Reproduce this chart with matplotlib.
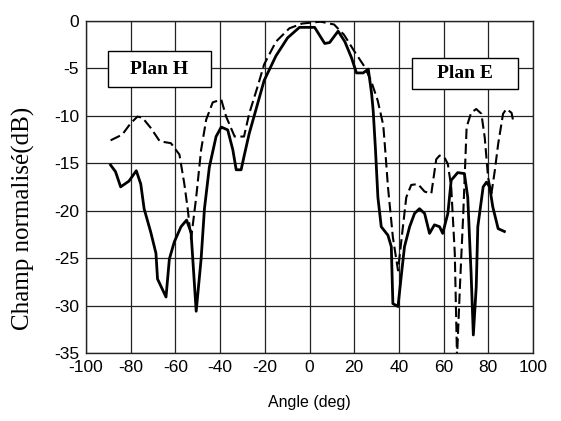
import matplotlib.pyplot as plt
from matplotlib.patches import Rectangle

plt.rcParams['axes.unicode_minus'] = False

# courbe en trait plein
solid_x = [-89, -86.8, -84.5, -80.8, -77.5, -75.5, -74, -71, -68.7, -68, -64.2, -62.7, -60.5,
           -57.5, -55, -53, -50.7, -48.5, -47, -44.8, -41.8, -39.5, -36.6, -34.3, -32.8, -30.6,
           -29.3, -27, -24, -20.3, -15, -9.8, -4.5, 2.3, 6.8, 9, 12.8, 15.8, 18.8, 21, 24, 26.3,
           27.8, 28.5, 29.5, 30.6, 32.1, 35.1, 36.6, 37.3, 39.6, 41, 42.5, 44.8, 47, 49.2, 51.5,
           53.7, 55.9, 58.2, 59.6, 61.9, 63.4, 66.3, 69.3, 70.8, 72.3, 73.3, 74.6, 75.3, 77.7,
           79.2, 80.6, 82, 84.4, 87.2]
solid_y = [-15.2, -15.9, -17.5, -16.9, -15.8, -17.2, -19.8, -22.3, -24.5, -27.2, -29.1, -25.1, -23.3,
           -21.7, -21, -22.3, -30.6, -25.1, -19.8, -15.4, -12.2, -11.2, -11.5, -13.6, -15.7, -15.7,
           -14.3, -11.9, -9.4, -6.3, -3.7, -1.8, -0.7, -0.7, -2.4, -2.3, -1.1, -2.2, -3.9, -5.5, -5.5, -5.1,
           -7.7, -9.5, -13.5, -18.6, -21.7, -22.6, -23.8, -29.8, -30.1, -27, -23.8, -21.7, -20.3, -19.8, -20.3,
           -22.4, -21.5, -21.7, -22.4, -20.3, -16.8, -16, -16.1, -18.6, -26.6, -33.1, -28, -21.7, -17.5,
           -17, -17.5, -19.6, -21.9, -22.2]

# courbe en pointillés
dash_x = [-89, -83.8, -80, -77, -74.8, -71, -67, -62, -58.2, -56, -54.5, -53, -50.7, -48.5, -46.2,
          -43.3, -39.5, -37.3, -33.5, -29.3, -27, -23.3, -20.3, -15, -9, -3.3, 5, 11, 15.5, 20, 24.5,
          27.5, 30.5, 33, 34, 35.1, 37.3, 39.6, 41.8, 43.3, 45.5, 48.5, 51.5, 54.5, 56.7, 58.2, 60.4,
          61.9, 63.4, 65, 66, 67.3, 68.8, 70.3, 72.3, 74.6, 76.9, 78.4, 79.9, 81.4, 82.9, 84.4, 86.6,
          88.1, 90.4, 91]
dash_y = [-12.6, -12.0, -10.8, -10.1, -10.2, -11.3, -12.7, -12.9, -14.1, -17.2, -19.8, -23, -18.6, -13.6, -10.4,
          -8.6, -8.3, -10.1, -12.2, -12.2, -9.8, -7, -4.6, -2.2, -0.8, -0.3, -0.1, -0.4, -1.5, -3.2, -4.8,
          -6.3, -8.4, -11, -14, -17.5, -22.8, -26.3, -21.7, -18.6, -17.3, -17.2, -18, -18.2, -14.6, -14.2, -14.4,
          -15.1, -17.5, -24.5, -35.5, -28, -20.3, -11.2, -9.7, -9.3, -9.8, -12.3, -16.5, -18.2, -15.8, -13, -9.8,
          -9.3, -9.7, -10.4]

x_ticks = [-100, -80, -60, -40, -20, 0, 20, 40, 60, 80, 100]
y_ticks = [0, -5, -10, -15, -20, -25, -30, -35]

fig = plt.figure(figsize=(5.61, 4.21), dpi=100)
ax = fig.add_axes([0.1533, 0.1615, 0.7968, 0.7893])

ax.plot(solid_x, solid_y, color='black', lw=2.0, zorder=3)
ax.plot(dash_x, dash_y, color='black', lw=1.5, dashes=(5, 2.2), zorder=3)

ax.set_xlim(-100, 100)
ax.set_ylim(-35, 0)
ax.set_xticks(x_ticks)
ax.set_yticks(y_ticks)
ax.grid(True, color='#222222', lw=0.9)
ax.tick_params(length=0, labelsize=12.5, pad=5)
for lab in ax.get_xticklabels() + ax.get_yticklabels():
    lab.set_family('Liberation Sans')
for s in ax.spines.values():
    s.set_color('#222222')
    s.set_linewidth(1.0)

ax.set_xlabel('Angle (deg)', family='Liberation Sans', fontsize=11.5)
ax.xaxis.set_label_coords(0.5, -0.125)
ax.set_ylabel('Champ normalisé(dB)', family='Liberation Serif', fontsize=18)
ax.yaxis.set_label_coords(-0.113, 0.405)

# encadrés
ax.add_patch(Rectangle((-90.2, -6.97), 46.0, 3.74, facecolor='white', edgecolor='black', lw=1.0, zorder=2))
ax.text(-67.2, -5.1, 'Plan H', family='Liberation Serif', weight='bold', fontsize=14,
        ha='center', va='center', zorder=4)
ax.add_patch(Rectangle((45.8, -7.18), 47.6, 3.26, facecolor='white', edgecolor='black', lw=1.0, zorder=2))
ax.text(69.6, -5.55, 'Plan E', family='Liberation Serif', weight='bold', fontsize=14,
        ha='center', va='center', zorder=4)

fig.savefig('out.png', dpi=100)
